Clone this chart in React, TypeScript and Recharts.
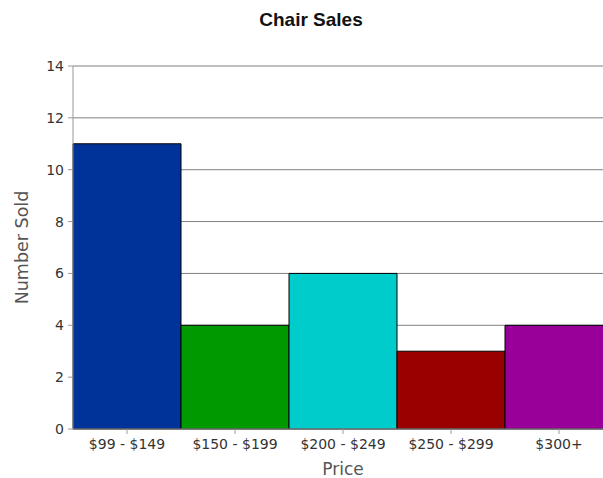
import React from 'react';
import { BarChart, Bar, XAxis, YAxis, CartesianGrid, Cell, Label } from 'recharts';

const categories = ['$99 - $149', '$150 - $199', '$200 - $249', '$250 - $299', '$300+'];
const numberSold = [11, 4, 6, 3, 4];
const barColors = ['#003399', '#009900', '#00CCCC', '#990000', '#990099'];
const yTicks = [0, 2, 4, 6, 8, 10, 12, 14];

const data = categories.map((c, i) => ({ price: c, sold: numberSold[i] }));

const tickFont = { fontFamily: 'DejaVu Sans', fontSize: 14, fill: '#333333' };

export default function App() {
  return (
    <div style={{ position: 'absolute', left: 0, top: 0, width: 603, height: 478, overflow: 'hidden', background: '#fff' }}>
      <div
        style={{
          position: 'absolute',
          left: 311,
          top: 10,
          transform: 'translateX(-50%)',
          fontFamily: 'Liberation Sans',
          fontWeight: 'bold',
          fontSize: 19,
          lineHeight: '19px',
          color: '#111',
          whiteSpace: 'nowrap',
        }}
      >
        Chair Sales
      </div>
      <BarChart
        width={620}
        height={478}
        data={data}
        margin={{ top: 66, right: 7, left: 0, bottom: 0 }}
        barCategoryGap={0}
        barGap={0}
      >
        <CartesianGrid vertical={false} stroke="#808080" strokeWidth={1} />
        <XAxis
          dataKey="price"
          height={49}
          stroke="#999999"
          tickSize={5}
          tickMargin={5}
          tick={tickFont}
          interval={0}
        >
          <Label
            value="Price"
            position="insideBottom"
            offset={3}
            style={{ fontFamily: 'DejaVu Sans', fontSize: 17, fill: '#555555' }}
          />
        </XAxis>
        <YAxis
          width={73}
          domain={[0, 14]}
          ticks={yTicks}
          stroke="#999999"
          tickSize={5}
          tickMargin={4}
          tick={tickFont}
          interval={0}
        >
          <Label
            content={(props: any) => {
              const vb = props.viewBox || { x: 0, y: 66, width: 73, height: 363 };
              const cx = 22;
              const cy = vb.y + vb.height / 2;
              return (
                <text
                  x={cx}
                  y={cy}
                  transform={`rotate(-90 ${cx} ${cy})`}
                  textAnchor="middle"
                  dominantBaseline="central"
                  style={{ fontFamily: 'DejaVu Sans', fontSize: 17.5, fill: '#555555' }}
                >
                  Number Sold
                </text>
              );
            }}
          />
        </YAxis>
        <Bar dataKey="sold" stroke="#000000" strokeWidth={1} isAnimationActive={false}>
          {data.map((d, i) => (
            <Cell key={d.price} fill={barColors[i]} />
          ))}
        </Bar>
      </BarChart>
    </div>
  );
}
